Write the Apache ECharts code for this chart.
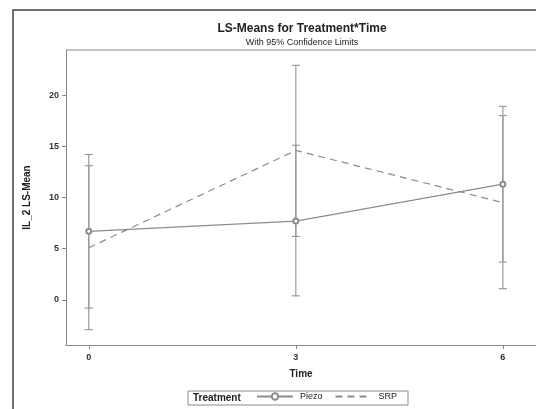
<!DOCTYPE html>
<html>
<head>
<meta charset="utf-8">
<script src="https://cdn.jsdelivr.net/npm/echarts@6/dist/echarts.min.js"></script>
<style>
  html, body { margin: 0; padding: 0; background: #fff; }
  #chart { width: 536px; height: 409px; }
</style>
</head>
<body>
<div id="chart"></div>
<script>
const times = [0, 3, 6];
const piezoMean = [6.7, 7.7, 11.3];
const piezoLower = [-0.8, 0.4, 3.7];
const piezoUpper = [14.2, 15.1, 18.9];
const srpMean = [5.1, 14.6, 9.5];
const srpLower = [-2.9, 6.2, 1.1];
const srpUpper = [13.1, 22.9, 18.0];
const yTicks = [0, 5, 10, 15, 20];
const xTicks = [0, 3, 6];

const grey = '#8c8c8c';
const textColor = '#222';

function errorBars(name, lower, upper) {
  return {
    name: name + ' CI',
    type: 'custom',
    silent: true,
    z: 1,
    data: times.map((t, i) => [t, lower[i], upper[i]]),
    renderItem(params, api) {
      const lo = api.coord([api.value(0), api.value(1)]);
      const hi = api.coord([api.value(0), api.value(2)]);
      const w = 4;
      const style = { stroke: '#9a9a9a', lineWidth: 1.2 };
      return {
        type: 'group',
        children: [
          { type: 'line', shape: { x1: lo[0], y1: lo[1], x2: hi[0], y2: hi[1] }, style },
          { type: 'line', shape: { x1: lo[0] - w, y1: lo[1], x2: lo[0] + w, y2: lo[1] }, style },
          { type: 'line', shape: { x1: hi[0] - w, y1: hi[1], x2: hi[0] + w, y2: hi[1] }, style }
        ]
      };
    }
  };
}

const chart = echarts.init(document.getElementById('chart'));
chart.setOption({
  animation: false,
  backgroundColor: '#fff',
  title: {
    text: 'LS-Means for Treatment*Time',
    subtext: 'With 95% Confidence Limits',
    left: 297,
    textAlign: 'center',
    top: 18,
    itemGap: 3,
    textStyle: { fontFamily: 'Liberation Sans', fontSize: 12, fontWeight: 'bold', color: textColor },
    subtextStyle: { fontFamily: 'Liberation Sans', fontSize: 9, color: textColor }
  },
  grid: { left: 66, top: 50, right: 0, bottom: 64 },
  xAxis: {
    type: 'value',
    min: -0.33,
    max: 6.48,
    name: 'Time',
    nameLocation: 'middle',
    nameGap: 24,
    nameTextStyle: { fontFamily: 'Liberation Sans', fontSize: 10, fontWeight: 'bold', color: textColor },
    axisLine: { show: true, onZero: false, lineStyle: { color: '#888', width: 1 } },
    axisTick: { show: true, length: 4, customValues: xTicks, lineStyle: { color: '#888' } },
    axisLabel: { customValues: xTicks, fontFamily: 'Liberation Sans', fontSize: 9, fontWeight: 'bold', color: '#333', margin: 8 },
    splitLine: { show: false }
  },
  yAxis: {
    type: 'value',
    min: -4.4,
    max: 24.4,
    name: 'IL_2 LS-Mean',
    nameLocation: 'middle',
    nameGap: 34,
    nameTextStyle: { fontFamily: 'Liberation Sans', fontSize: 10, fontWeight: 'bold', color: textColor },
    axisLine: { show: true, onZero: false, lineStyle: { color: '#888', width: 1 } },
    axisTick: { show: true, length: 4, customValues: yTicks, lineStyle: { color: '#888' } },
    axisLabel: { customValues: yTicks, fontFamily: 'Liberation Sans', fontSize: 9, fontWeight: 'bold', color: '#333', margin: 7 },
    splitLine: { show: false }
  },
  legend: {
    data: ['Piezo', { name: 'SRP', itemStyle: { opacity: 0 } }],
    left: 256,
    top: 392,
    itemWidth: 36,
    itemHeight: 8,
    itemGap: 12,
    padding: 0,
    textStyle: { fontFamily: 'Liberation Sans', fontSize: 9, color: textColor, padding: [0, 0, 0, 2] }
  },
  graphic: [
    { type: 'rect', shape: { x: 13, y: 10, width: 620, height: 500 }, style: { fill: 'none', stroke: '#444', lineWidth: 1.5 } },
    { type: 'line', shape: { x1: 66, y1: 50, x2: 536, y2: 50 }, style: { stroke: '#888', lineWidth: 1 } },
    { type: 'rect', shape: { x: 188, y: 391, width: 220, height: 14 }, style: { fill: 'none', stroke: '#888', lineWidth: 1 } },
    { type: 'text', left: 193, top: 393, style: { text: 'Treatment', font: 'bold 10px "Liberation Sans"', fill: textColor } }
  ],
  series: [
    errorBars('Piezo', piezoLower, piezoUpper),
    errorBars('SRP', srpLower, srpUpper),
    {
      name: 'Piezo',
      type: 'line',
      data: times.map((t, i) => [t, piezoMean[i]]),
      symbol: 'emptyCircle',
      symbolSize: 5,
      itemStyle: { color: grey, borderWidth: 1 },
      lineStyle: { color: grey, width: 1.2, type: 'solid' },
      z: 3
    },
    {
      name: 'SRP',
      type: 'line',
      data: times.map((t, i) => [t, srpMean[i]]),
      symbol: 'none',
      itemStyle: { color: grey },
      lineStyle: { color: grey, width: 1.2, type: [7, 5] },
      z: 3
    }
  ]
});
</script>
</body>
</html>
